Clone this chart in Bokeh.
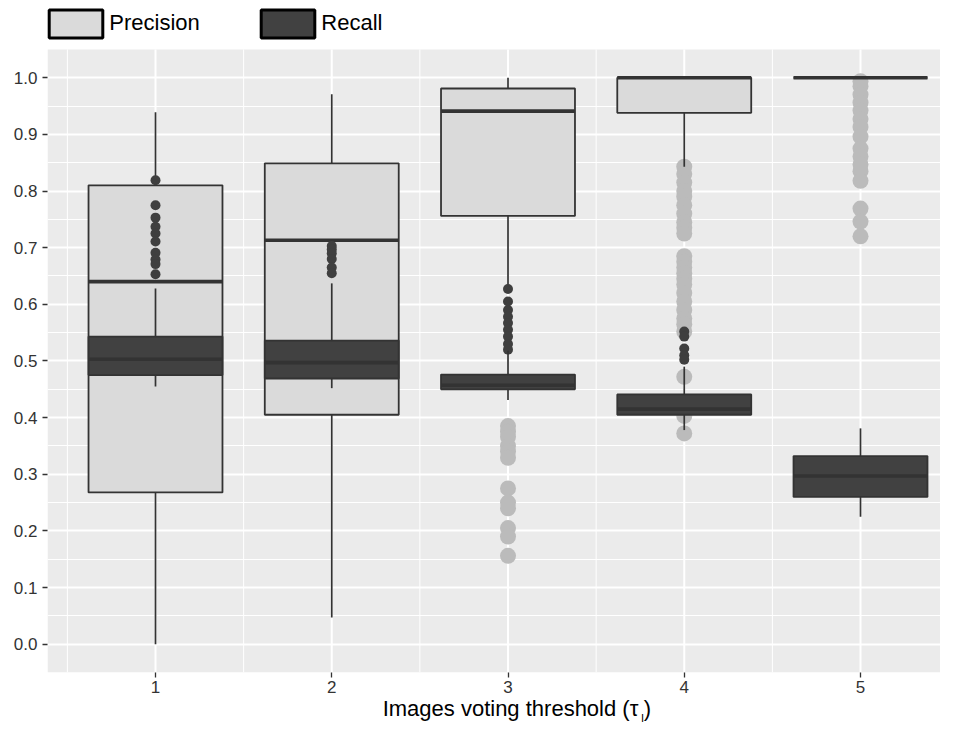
from bokeh.plotting import figure
from bokeh.models import (FixedTicker, NumeralTickFormatter, Legend, LegendItem,
                          Range1d, LinearAxis, BoxAnnotation)
from bokeh.embed import file_html
from bokeh.resources import INLINE

# ---------------- data ----------------
thresholds = [1, 2, 3, 4, 5]
x_ticks = [1, 2, 3, 4, 5]
x_minor_ticks = [0.5, 1.5, 2.5, 3.5, 4.5, 5.5]
y_ticks = [0.0, 0.1, 0.2, 0.3, 0.4, 0.5, 0.6, 0.7, 0.8, 0.9, 1.0]
y_minor_ticks = [0.05, 0.15, 0.25, 0.35, 0.45, 0.55, 0.65, 0.75, 0.85, 0.95]
y_panel = [-0.05, 1.05]

prec_lower = [0.000, 0.047, 0.627, 0.843, 1.000]
prec_q1 = [0.268, 0.405, 0.756, 0.938, 1.000]
prec_median = [0.640, 0.713, 0.941, 1.000, 1.000]
prec_q3 = [0.810, 0.849, 0.981, 1.000, 1.000]
prec_upper = [0.939, 0.971, 1.000, 1.000, 1.000]
prec_outliers = [
    [],
    [],
    [0.385, 0.375, 0.366, 0.350, 0.340, 0.329, 0.275, 0.250, 0.240, 0.205, 0.190, 0.156],
    [0.843, 0.830, 0.815, 0.800, 0.790, 0.775, 0.760, 0.745, 0.735, 0.725,
     0.685, 0.675, 0.665, 0.655, 0.645, 0.635, 0.620, 0.605, 0.590, 0.575, 0.565, 0.552,
     0.472, 0.403, 0.372],
    [0.994, 0.985, 0.970, 0.956, 0.942, 0.927, 0.913, 0.896, 0.875, 0.861, 0.847,
     0.835, 0.818, 0.769, 0.746, 0.720],
]

rec_lower = [0.455, 0.452, 0.431, 0.378, 0.225]
rec_q1 = [0.475, 0.469, 0.450, 0.405, 0.260]
rec_median = [0.503, 0.497, 0.457, 0.415, 0.297]
rec_q3 = [0.543, 0.536, 0.476, 0.441, 0.332]
rec_upper = [0.628, 0.637, 0.518, 0.490, 0.381]
rec_outliers = [
    [0.819, 0.775, 0.753, 0.737, 0.725, 0.711, 0.691, 0.679, 0.671, 0.653],
    [0.703, 0.697, 0.690, 0.680, 0.665, 0.655],
    [0.627, 0.605, 0.590, 0.578, 0.567, 0.555, 0.543, 0.530, 0.520],
    [0.552, 0.543, 0.522, 0.510, 0.502],
    [],
]

series_labels = ["Precision", "Recall"]
x_title = "Images voting threshold (τ"
x_title_sub = "I"
x_title_end = ")"

# ---------------- style / layout ----------------
FONT = "Liberation Sans"
PANEL_BG = "#EBEBEB"
LINE = "#333333"
PREC_FILL = "#DADADA"
REC_FILL = "#414141"
PREC_OUT = "#BBBBBB"
REC_OUT = "#3F3F3F"
BOX_W = 0.76

W, H = 940, 726
LEFT, BOTTOM = 47, 53
PANEL_TOP_PX = 49           # grey panel starts this far below the figure top
FRAME_H = H - BOTTOM
PX_PER_UNIT = (FRAME_H - PANEL_TOP_PX) / (y_panel[1] - y_panel[0])
y_top = y_panel[1] + PANEL_TOP_PX / PX_PER_UNIT   # room for the legend

p = figure(width=W, height=H, output_backend="svg", toolbar_location=None,
           x_range=Range1d(0.3872, 5.4539), y_range=Range1d(y_panel[0], y_top),
           min_border_left=LEFT, min_border_right=0, min_border_top=0,
           min_border_bottom=BOTTOM)
p.background_fill_color = "white"
p.border_fill_color = "white"
p.outline_line_color = None
p.xgrid.visible = False
p.ygrid.visible = False

# grey plotting panel
p.add_layout(BoxAnnotation(bottom=y_panel[0], top=y_panel[1], fill_color=PANEL_BG,
                           fill_alpha=1, line_color=None, level="underlay"))

# grid lines, limited to the panel
p.hspan(y=y_minor_ticks, line_color="white", line_width=1)
p.hspan(y=y_ticks, line_color="white", line_width=2)
p.segment(x0=x_minor_ticks, x1=x_minor_ticks, y0=[y_panel[0]] * len(x_minor_ticks),
          y1=[y_panel[1]] * len(x_minor_ticks), line_color="white", line_width=1)
p.segment(x0=x_ticks, x1=x_ticks, y0=[y_panel[0]] * len(x_ticks),
          y1=[y_panel[1]] * len(x_ticks), line_color="white", line_width=2)

xax = p.below[0]
yax = p.left[0]
xax.ticker = FixedTicker(ticks=x_ticks, minor_ticks=[])
yax.ticker = FixedTicker(ticks=y_ticks, minor_ticks=[])
yax.formatter = NumeralTickFormatter(format="0.0")
for ax in (xax, yax):
    ax.axis_line_color = None
    ax.major_tick_line_color = LINE
    ax.major_tick_line_width = 1.3
    ax.major_tick_out = 5
    ax.major_tick_in = 0
    ax.minor_tick_line_color = None
    ax.major_label_text_font = FONT
    ax.major_label_text_font_size = "17px"
    ax.major_label_text_color = "#333333"
yax.major_label_standoff = 5
xax.major_label_standoff = 3

xl = [x - BOX_W / 2 for x in thresholds]
xr = [x + BOX_W / 2 for x in thresholds]


def draw_box(lower, q1, med, q3, upper, outliers, fill, out_color, out_size):
    ox, oy = [], []
    for x, vals in zip(thresholds, outliers):
        ox.extend([x] * len(vals))
        oy.extend(vals)
    p.scatter(x=ox, y=oy, size=out_size, fill_color=out_color, line_color=None)
    p.segment(x0=thresholds, y0=q3, x1=thresholds, y1=upper,
              line_color=LINE, line_width=1.7)
    p.segment(x0=thresholds, y0=lower, x1=thresholds, y1=q1,
              line_color=LINE, line_width=1.7)
    p.vbar(x=thresholds, width=BOX_W, bottom=q1, top=q3, fill_color=fill,
           line_color=LINE, line_width=1.8)
    p.segment(x0=xl, y0=med, x1=xr, y1=med, line_color=LINE, line_width=3.6)


draw_box(prec_lower, prec_q1, prec_median, prec_q3, prec_upper, prec_outliers,
         PREC_FILL, PREC_OUT, 16)
draw_box(rec_lower, rec_q1, rec_median, rec_q3, rec_upper, rec_outliers,
         REC_FILL, REC_OUT, 10)

# hidden copies of the boxes that only provide the legend key style
r_p = p.vbar(x=thresholds, width=BOX_W, bottom=prec_q1, top=prec_q3,
             fill_color=PREC_FILL, line_color="black", line_width=3, visible=False)
r_r = p.vbar(x=thresholds, width=BOX_W, bottom=rec_q1, top=rec_q3,
             fill_color=REC_FILL, line_color="black", line_width=3, visible=False)

legend = Legend(items=[LegendItem(label=series_labels[0], renderers=[r_p]),
                       LegendItem(label=series_labels[1], renderers=[r_r])],
                location=(-4.7, FRAME_H - 41.5), orientation="horizontal",
                glyph_width=67, glyph_height=35, label_standoff=-1,
                label_width=145, spacing=0, padding=0, margin=0,
                border_line_color=None, background_fill_alpha=0,
                label_text_font=FONT, label_text_font_size="22px",
                label_text_color="black")
p.add_layout(legend)

# x-axis title (with subscript) on pixel-space helper axes below the ticks
p.extra_x_ranges = {"px": Range1d(LEFT, W)}


def title_axis(positions, texts, size, standoff):
    ax = LinearAxis(x_range_name="px",
                    ticker=FixedTicker(ticks=positions, minor_ticks=[]),
                    major_label_overrides=dict(zip(positions, texts)),
                    axis_line_color=None, major_tick_line_color=None,
                    minor_tick_line_color=None, major_tick_out=0, major_tick_in=0,
                    major_label_standoff=standoff,
                    major_label_text_font=FONT,
                    major_label_text_font_size=size,
                    major_label_text_color="black")
    p.add_layout(ax, "below")
    return ax


title_axis([510, 647], [x_title, x_title_end], "22px", 0)
title_axis([642], [x_title_sub], "11px", -12)

open("out.html", "w").write(file_html(p, INLINE))
